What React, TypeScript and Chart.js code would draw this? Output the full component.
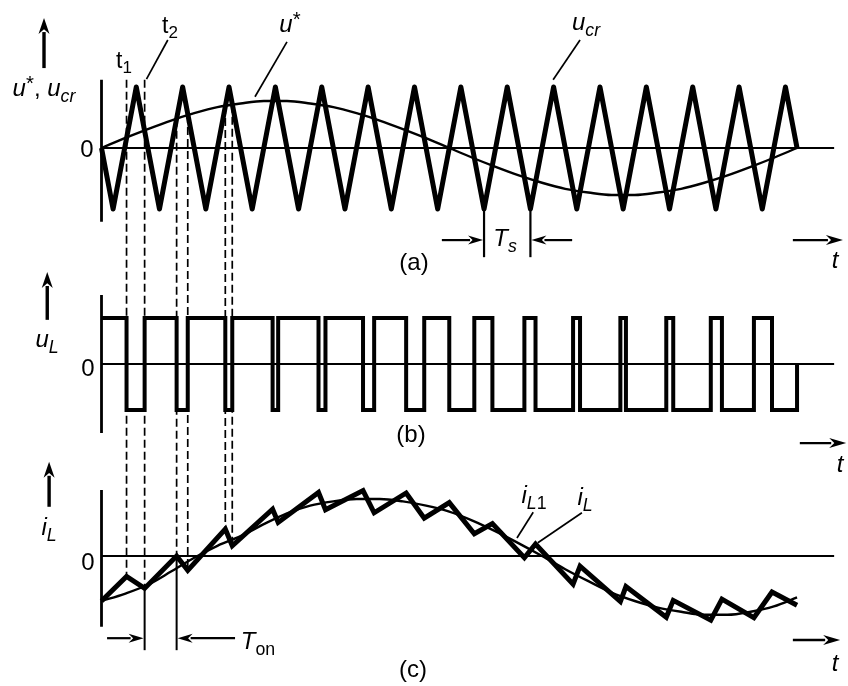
import React, { useEffect, useRef } from "react";
import { Chart, registerables } from "chart.js";

Chart.register(...registerables);

const INK = "#000000";
const FONT = "'Liberation Sans', Arial, Helvetica, sans-serif";

// ---------- data (time unit = one carrier period Ts, 15 periods shown) ----------
// (a) triangular carrier u_cr : vertex times and values
const carrierT = [0, 0.25, 0.75, 1.25, 1.75, 2.25, 2.75, 3.25, 3.75, 4.25, 4.75, 5.25, 5.75, 6.25, 6.75, 7.25, 7.75, 8.25, 8.75, 9.25, 9.75, 10.25, 10.75, 11.25, 11.75, 12.25, 12.75, 13.25, 13.75, 14.25, 14.75, 15];
const carrierV = [0, -1, 1, -1, 1, -1, 1, -1, 1, -1, 1, -1, 1, -1, 1, -1, 1, -1, 1, -1, 1, -1, 1, -1, 1, -1, 1, -1, 1, -1, 1, 0];

// (a) reference u* (read every half period)
const refT = [0, 0.5, 1, 1.5, 2, 2.5, 3, 3.5, 4, 4.5, 5, 5.5, 6, 6.5, 7, 7.5, 8, 8.5, 9, 9.5, 10, 10.5, 11, 11.5, 12, 12.5, 13, 13.5, 14, 14.5, 15];
const refV = [0, 0.16, 0.31, 0.45, 0.57, 0.67, 0.73, 0.77, 0.77, 0.73, 0.67, 0.57, 0.45, 0.31, 0.16, 0, -0.16, -0.31, -0.45, -0.57, -0.67, -0.73, -0.77, -0.77, -0.73, -0.67, -0.57, -0.45, -0.31, -0.16, 0];

// (b) switching instants of u_L (intersections of u* and u_cr)
const switchT = [0.54, 0.93, 1.62, 1.86, 2.67, 2.82, 3.69, 3.81, 4.68, 4.83, 5.64, 5.88, 6.57, 6.96, 7.5, 8.04, 8.43, 9.12, 9.36, 10.17, 10.32, 11.19, 11.31, 12.18, 12.33, 13.14, 13.38, 14.07, 14.46];
// u_L level at start, after each switching instant, and at the end
const uLV = [1, -1, 1, -1, 1, -1, 1, -1, 1, -1, 1, -1, 1, -1, 1, -1, 1, -1, 1, -1, 1, -1, 1, -1, 1, -1, 1, -1, 1, -1, 0];

// (c) ripple current i_L at start, at every switching instant, and at the end
const iLV = [-0.75, -0.34, -0.54, 0.0, -0.24, 0.45, 0.17, 0.78, 0.56, 1.06, 0.77, 1.09, 0.72, 1.05, 0.63, 0.89, 0.37, 0.54, -0.03, 0.2, -0.47, -0.17, -0.76, -0.51, -1.02, -0.74, -1.07, -0.72, -1.03, -0.6, -0.82];
// (c) fundamental i_L1 (read every half period)
const iL1V = [-0.75, -0.63, -0.48, -0.26, -0.03, 0.17, 0.33, 0.53, 0.71, 0.84, 0.91, 0.95, 0.95, 0.91, 0.84, 0.74, 0.59, 0.41, 0.21, 0.0, -0.22, -0.42, -0.61, -0.75, -0.86, -0.93, -0.98, -0.98, -0.93, -0.84, -0.69];

// dashed projection lines: first six switching instants, top value in (a), bottom value in (c)
const guideTop = [1.12, 1.12, 0.48, 0.54, 0.69, 0.71];
const guideCount = 6;

// ---------- layout (scale ranges) ----------
const X_MIN = -2.189, X_MAX = 16.099;
const YA = { min: -8.82, max: 2.426 };
const YB = { min: -7.0, max: 7.913 };
const YC = { min: -2.167, max: 9.267 };
const ZERO_END = 15.8;

const pts = (xs: number[], ys: number[]) => xs.map((x, i) => ({ x, y: ys[i] }));

function arrow(ctx: CanvasRenderingContext2D, x0: number, y0: number, x1: number, y1: number, lw: number, hl: number, hw: number) {
  const a = Math.atan2(y1 - y0, x1 - x0);
  const bx = x1 - hl * Math.cos(a), by = y1 - hl * Math.sin(a);
  ctx.lineWidth = lw;
  ctx.beginPath();
  ctx.moveTo(x0, y0);
  ctx.lineTo(bx + 2 * Math.cos(a), by + 2 * Math.sin(a));
  ctx.stroke();
  ctx.beginPath();
  ctx.moveTo(x1, y1);
  ctx.lineTo(bx + (hw / 2) * Math.sin(a), by - (hw / 2) * Math.cos(a));
  ctx.lineTo(bx + 0.3 * hl * Math.cos(a), by + 0.3 * hl * Math.sin(a));
  ctx.lineTo(bx - (hw / 2) * Math.sin(a), by + (hw / 2) * Math.cos(a));
  ctx.closePath();
  ctx.fill();
}

const decoPlugin = {
  id: "deco",
  afterDatasetsDraw(chart: any) {
    const ctx: CanvasRenderingContext2D = chart.ctx;
    const X = (t: number) => chart.scales.x.getPixelForValue(t);
    const Y = (id: string, v: number) => chart.scales[id].getPixelForValue(v);
    ctx.save();
    ctx.strokeStyle = INK;
    ctx.fillStyle = INK;
    ctx.lineCap = "butt";

    // dashed projection lines from (a) through (b) to (c)
    ctx.setLineDash([8, 4]);
    ctx.lineWidth = 1.7;
    for (let i = 0; i < guideCount; i++) {
      const x = X(switchT[i]);
      ctx.beginPath();
      ctx.moveTo(x, Y("ya", guideTop[i]));
      ctx.lineTo(x, Y("yc", iLV[i + 1]));
      ctx.stroke();
    }
    ctx.setLineDash([]);

    // T_on boundaries (solid below the current)
    ctx.lineWidth = 2;
    [1, 2].forEach((k) => {
      const x = X(switchT[k]);
      ctx.beginPath();
      ctx.moveTo(x, Y("yc", iLV[k + 1]));
      ctx.lineTo(x, Y("yc", -1.57));
      ctx.stroke();
    });
    // T_s boundaries
    [8.25, 9.25].forEach((t) => {
      ctx.lineWidth = 2.2;
      ctx.beginPath();
      ctx.moveTo(X(t), Y("ya", -1));
      ctx.lineTo(X(t), Y("ya", -1.79));
      ctx.stroke();
    });

    // dimension arrows
    arrow(ctx, X(7.34), Y("ya", -1.51), X(8.25) - 1, Y("ya", -1.51), 2.2, 15, 9);
    arrow(ctx, X(10.15), Y("ya", -1.51), X(9.25) + 1, Y("ya", -1.51), 2.2, 15, 9);
    arrow(ctx, X(0.12), Y("yc", -1.37), X(switchT[1]) - 1, Y("yc", -1.37), 2.2, 15, 9);
    arrow(ctx, X(2.88), Y("yc", -1.37), X(switchT[2]) + 1, Y("yc", -1.37), 2.2, 15, 9);

    // vertical quantity arrows
    arrow(ctx, X(-1.24), Y("ya", 1.31), X(-1.24), Y("ya", 2.13), 3.4, 16, 11);
    arrow(ctx, X(-1.17), Y("yb", 0.96), X(-1.17), Y("yb", 2.0), 3.4, 16, 11);
    arrow(ctx, X(-1.13), Y("yc", 0.82), X(-1.13), Y("yc", 1.57), 3.4, 16, 11);

    // time arrows
    arrow(ctx, X(14.91), Y("ya", -1.51), X(15.99), Y("ya", -1.51), 2.4, 17, 10);
    arrow(ctx, X(15.06), Y("yb", -1.72), X(16.06), Y("yb", -1.72), 2.4, 17, 10);
    arrow(ctx, X(14.91), Y("yc", -1.4), X(15.93), Y("yc", -1.4), 2.4, 17, 10);

    // leader lines
    ctx.lineWidth = 1.7;
    const lead = (id: string, t0: number, v0: number, t1: number, v1: number) => {
      ctx.beginPath();
      ctx.moveTo(X(t0), Y(id, v0));
      ctx.lineTo(X(t1), Y(id, v1));
      ctx.stroke();
    };
    lead("ya", 0.97, 1.13, 1.43, 1.77);
    lead("ya", 3.31, 0.84, 4.0, 1.74);
    lead("ya", 9.74, 1.12, 10.32, 1.77);
    lead("yc", 8.96, 0.3, 9.31, 0.73);
    lead("yc", 9.41, 0.22, 10.36, 0.72);

    ctx.restore();
  },
};

const Sub = ({ children }: any) => (
  <span style={{ fontSize: "0.74em", position: "relative", top: "0.32em" }}>{children}</span>
);
const Sup = ({ children }: any) => (
  <span style={{ fontSize: "0.85em", position: "relative", top: "-0.3em" }}>{children}</span>
);
const Lbl = ({ x, y, size = 24, children }: any) => (
  <div
    style={{
      position: "absolute",
      left: x,
      top: y,
      transform: "translate(-50%, -50%)",
      fontFamily: FONT,
      fontSize: size,
      lineHeight: 1,
      whiteSpace: "nowrap",
      color: INK,
    }}
  >
    {children}
  </div>
);

export default function App() {
  const ref = useRef<HTMLCanvasElement | null>(null);

  useEffect(() => {
    if (!ref.current) return;
    const iLT = [0, ...switchT, 15];
    const base = { pointRadius: 0, borderColor: INK, backgroundColor: INK, fill: false };
    const seg = (id: string, a: { x: number; y: number }, b: { x: number; y: number }, w: number) => ({
      ...base,
      yAxisID: id,
      data: [a, b],
      borderWidth: w,
      borderCapStyle: "butt",
    });
    const chart = new Chart(ref.current, {
      type: "line",
      data: {
        datasets: [
          // panel (a)
          { ...base, yAxisID: "ya", data: pts(carrierT, carrierV), borderWidth: 5, borderJoinStyle: "round", tension: 0 },
          { ...base, yAxisID: "ya", data: pts(refT, refV), borderWidth: 2.4, cubicInterpolationMode: "monotone" },
          seg("ya", { x: 0, y: 0 }, { x: ZERO_END, y: 0 }, 2.2),
          seg("ya", { x: 0, y: 1.12 }, { x: 0, y: -1.21 }, 2.8),
          // panel (b)
          { ...base, yAxisID: "yb", data: pts(iLT, uLV), borderWidth: 4, stepped: "before", borderJoinStyle: "miter" },
          seg("yb", { x: 0, y: 0 }, { x: ZERO_END, y: 0 }, 2.2),
          seg("yb", { x: 0, y: 1.5 }, { x: 0, y: -1.5 }, 2.8),
          // panel (c)
          { ...base, yAxisID: "yc", data: pts(iLT, iLV), borderWidth: 5, borderJoinStyle: "miter", tension: 0 },
          { ...base, yAxisID: "yc", data: pts(refT, iL1V), borderWidth: 2.4, cubicInterpolationMode: "monotone" },
          seg("yc", { x: 0, y: 0 }, { x: ZERO_END, y: 0 }, 2.2),
          seg("yc", { x: 0, y: 1.1 }, { x: 0, y: -1.18 }, 2.8),
        ] as any,
      },
      options: {
        animation: false,
        responsive: false,
        events: [],
        parsing: false as any,
        normalized: true,
        layout: { padding: 0 },
        plugins: { legend: { display: false }, tooltip: { enabled: false }, title: { display: false } },
        scales: {
          x: { type: "linear", display: false, min: X_MIN, max: X_MAX, bounds: "data" },
          ya: { type: "linear", axis: "y", display: false, min: YA.min, max: YA.max, bounds: "data" },
          yb: { type: "linear", axis: "y", display: false, min: YB.min, max: YB.max, bounds: "data" },
          yc: { type: "linear", axis: "y", display: false, min: YC.min, max: YC.max, bounds: "data" },
        } as any,
      },
      plugins: [decoPlugin],
    });
    return () => chart.destroy();
  }, []);

  return (
    <div style={{ position: "fixed", left: 0, top: 0, width: 848, height: 686, background: "#fff", overflow: "hidden" }}>
      <canvas ref={ref} width={848} height={686} style={{ position: "absolute", left: 0, top: 0, width: 848, height: 686 }} />
      {/* panel (a) */}
      <Lbl x={44} y={88}>
        <i>u</i><Sup>*</Sup>, <i>u</i><Sub><i>cr</i></Sub>
      </Lbl>
      <Lbl x={87} y={149}>0</Lbl>
      <Lbl x={124} y={60} size={23}>t<Sub>1</Sub></Lbl>
      <Lbl x={170} y={25} size={23}>t<Sub>2</Sub></Lbl>
      <Lbl x={290} y={24}><i>u</i><Sup>*</Sup></Lbl>
      <Lbl x={586} y={22}><i>u</i><Sub><i>cr</i></Sub></Lbl>
      <Lbl x={414} y={262}>(a)</Lbl>
      <Lbl x={505} y={238}><i>T</i><Sub><i>s</i></Sub></Lbl>
      <Lbl x={835} y={260}><i>t</i></Lbl>
      {/* panel (b) */}
      <Lbl x={47} y={339}><i>u</i><Sub><i>L</i></Sub></Lbl>
      <Lbl x={88} y={368}>0</Lbl>
      <Lbl x={411} y={434}>(b)</Lbl>
      <Lbl x={840} y={464}><i>t</i></Lbl>
      {/* panel (c) */}
      <Lbl x={49} y={527}><i>i</i><Sub><i>L</i></Sub></Lbl>
      <Lbl x={88} y={562}>0</Lbl>
      <Lbl x={534} y={495}><i>i</i><Sub><i>L</i>1</Sub></Lbl>
      <Lbl x={585} y={497}><i>i</i><Sub><i>L</i></Sub></Lbl>
      <Lbl x={258} y={641}><i>T</i><Sub>on</Sub></Lbl>
      <Lbl x={413} y={669}>(c)</Lbl>
      <Lbl x={835} y={663}><i>t</i></Lbl>
    </div>
  );
}
